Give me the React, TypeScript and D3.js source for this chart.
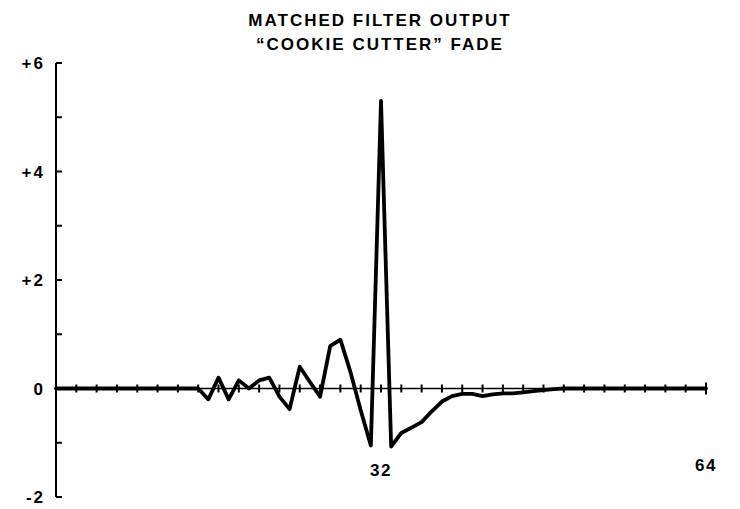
import React from "react";
import * as d3 from "d3";

const titleLines = ["MATCHED FILTER OUTPUT", "\u201CCOOKIE CUTTER\u201D FADE"];

const samples: number[] = d3.range(0, 65);
const values: number[] = [
  0, 0, 0, 0, 0, 0, 0, 0, 0, 0, 0, 0, 0, 0, 0,
  -0.2, 0.2, -0.2, 0.15, 0, 0.15, 0.2, -0.15, -0.38, 0.4, 0.12, -0.15, 0.78, 0.9, 0.3, -0.4,
  -1.05, 5.3, -1.07, -0.82, -0.72, -0.62, -0.42, -0.24, -0.14, -0.1, -0.1, -0.14, -0.11,
  -0.09, -0.09, -0.07, -0.05, -0.03, -0.01,
  0, 0, 0, 0, 0, 0, 0, 0, 0, 0, 0, 0, 0, 0, 0,
];

const yTickValues = [-2, -1, 0, 1, 2, 3, 4, 5, 6];
const yLabels = [
  { v: 6, t: "+6" },
  { v: 4, t: "+4" },
  { v: 2, t: "+2" },
  { v: 0, t: "0" },
  { v: -2, t: "-2" },
];
const xTickValues = d3.range(0, 65, 2);
const xLabels = [
  { v: 32, t: "32" },
  { v: 64, t: "64" },
];

const W = 740;
const H = 509;
const font = "'Liberation Sans', Arial, Helvetica, sans-serif";

export default function App() {
  const x = d3.scaleLinear().domain([0, 64]).range([56, 706]);
  const y = d3.scaleLinear().domain([-2, 6]).range([497, 63]);

  const line = d3
    .line<number>()
    .x((_, i) => x(samples[i]))
    .y((d) => y(d))
    .curve(d3.curveLinear);

  return (
    <svg
      width={W}
      height={H}
      style={{ position: "absolute", left: 0, top: 0, background: "#fff" }}
    >
      <rect width={W} height={H} fill="#fff" />
      {titleLines.map((t, i) => (
        <text
          key={i}
          x={380}
          y={26 + i * 24}
          textAnchor="middle"
          fontFamily={font}
          fontWeight="bold"
          fontSize={17}
          letterSpacing={2}
          fill="#000"
        >
          {t}
        </text>
      ))}

      {/* y axis */}
      <line x1={x(0)} x2={x(0)} y1={y(6)} y2={y(-2)} stroke="#000" strokeWidth={2} />
      {yTickValues.map((v) => (
        <line
          key={v}
          x1={x(0)}
          x2={x(0) + 6}
          y1={y(v)}
          y2={y(v)}
          stroke="#000"
          strokeWidth={2}
        />
      ))}
      {yLabels.map((l) => (
        <text
          key={l.t}
          x={45}
          y={y(l.v)}
          dy="0.36em"
          textAnchor="end"
          fontFamily={font}
          fontWeight="bold"
          fontSize={17}
          letterSpacing={2}
          fill="#000"
        >
          {l.t}
        </text>
      ))}

      {/* x axis */}
      <line x1={x(0)} x2={x(64)} y1={y(0)} y2={y(0)} stroke="#000" strokeWidth={1.6} />
      {xTickValues.map((v) => (
        <line
          key={v}
          x1={x(v)}
          x2={x(v)}
          y1={y(0) - (v === 64 ? 6 : 4)}
          y2={y(0) + (v === 64 ? 6 : 4)}
          stroke="#000"
          strokeWidth={2}
        />
      ))}
      {xLabels.map((l) => (
        <text
          key={l.t}
          x={x(l.v)}
          y={l.v === 64 ? 471 : 476}
          textAnchor="middle"
          fontFamily={font}
          fontWeight="bold"
          fontSize={17}
          letterSpacing={1.5}
          fill="#000"
        >
          {l.t}
        </text>
      ))}

      <path
        d={line(values) || ""}
        fill="none"
        stroke="#000"
        strokeWidth={3.8}
        strokeLinejoin="round"
        strokeLinecap="round"
      />
    </svg>
  );
}
